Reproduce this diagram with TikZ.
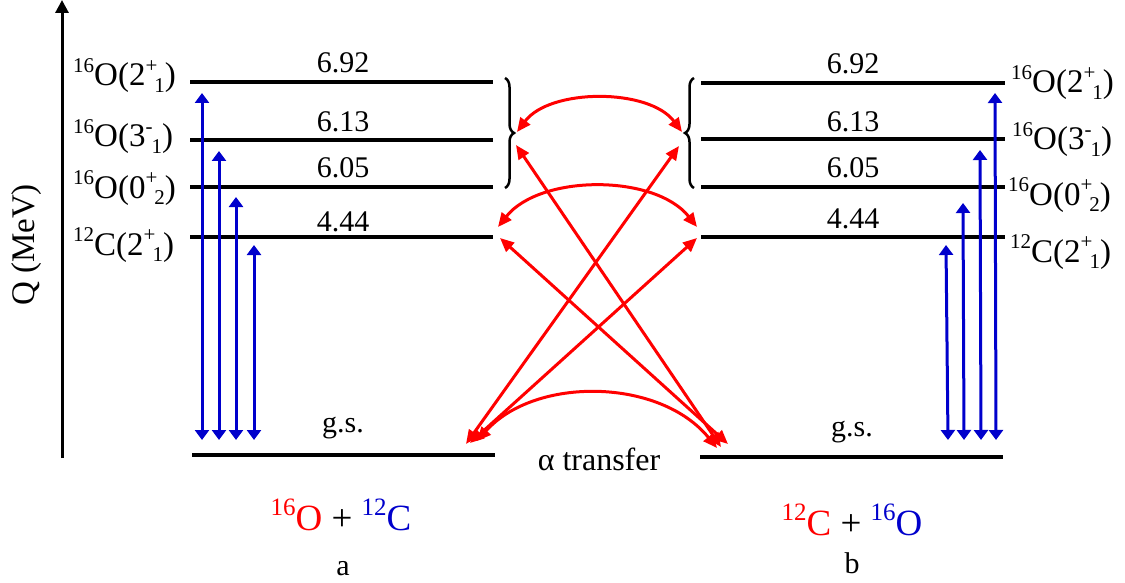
\documentclass[tikz,border=0pt]{standalone}
\usepackage{fontspec}
\setmainfont{Liberation Serif}
\usetikzlibrary{arrows.meta,decorations.pathreplacing}
\definecolor{myblue}{RGB}{0,0,204}
\newcommand{\isup}[1]{\raisebox{0.40em}{\fontsize{21}{21}\selectfont #1}}
\newcommand{\isdn}[1]{\raisebox{-0.20em}{\fontsize{21}{21}\selectfont #1}}
\newcommand{\bsup}[1]{\raisebox{0.40em}{\fontsize{25}{25}\selectfont #1}}
\begin{document}
\begin{tikzpicture}[x=1pt,y=-1pt,
  level/.style={line width=3.3pt},
  blu/.style={draw=myblue,line width=3pt,arrows={Triangle[length=10pt,width=14pt]-Triangle[length=10pt,width=14pt]}},
  redarr/.style={draw=red,line width=3pt,arrows={Triangle[length=14pt,width=12pt]-Triangle[length=14pt,width=12pt]}},
  num/.style={anchor=base,inner sep=0pt,font=\fontsize{30}{30}\selectfont},
  lab/.style={inner sep=0pt,font=\fontsize{33}{33}\selectfont},
  big/.style={anchor=base,inner sep=0pt,font=\fontsize{37}{37}\selectfont},
  brc/.style={decorate,decoration={brace,amplitude=9pt},line width=2.5pt}]
\useasboundingbox (0,0) rectangle (1125,583);
% axis
\coordinate (ax0) at (62,458);
\coordinate (ax1) at (62,0);
\draw[line width=3pt,-{Triangle[length=13pt,width=13pt]}] (ax0) -- (ax1);
\node[lab,rotate=90] (qlab) at (27,245) {Q (MeV)};
% left levels
\coordinate (La1) at (190,82);  \coordinate (Lb1) at (493,82);
\coordinate (La2) at (190,140); \coordinate (Lb2) at (493,140);
\coordinate (La3) at (190,187); \coordinate (Lb3) at (493,187);
\coordinate (La4) at (190,237); \coordinate (Lb4) at (493,237);
\coordinate (La0) at (192,455); \coordinate (Lb0) at (495,455);
\foreach \i in {0,...,4} \draw[level] (La\i) -- (Lb\i);
% right levels
\coordinate (Ra1) at (701,83);  \coordinate (Rb1) at (1005,83);
\coordinate (Ra2) at (701,139); \coordinate (Rb2) at (1005,139);
\coordinate (Ra3) at (701,187); \coordinate (Rb3) at (1005,187);
\coordinate (Ra4) at (701,237); \coordinate (Rb4) at (1005,237);
\coordinate (Ra0) at (700,457); \coordinate (Rb0) at (1003,457);
\foreach \i in {0,...,4} \draw[level] (Ra\i) -- (Rb\i);
% level numbers
\node[num] (ln1) at (343,73) {6.92};
\node[num] (ln2) at (343,132) {6.13};
\node[num] (ln3) at (343,178) {6.05};
\node[num] (ln4) at (343,231) {4.44};
\node[num] (ln0) at (343,432) {g.s.};
\node[num] (rn1) at (853,74) {6.92};
\node[num] (rn2) at (853,132) {6.13};
\node[num] (rn3) at (853,178) {6.05};
\node[num] (rn4) at (853,229) {4.44};
\node[num] (rn0) at (852,436) {g.s.};
% state labels left
\node[lab,anchor=base west] (sl1) at (73,86) {\isup{16}O(2\isup{+}\kern-3pt\isdn{1})};
\node[lab,anchor=base west] (sl2) at (73,147) {\isup{16}O(3\isup{-}\kern-1pt\isdn{1})};
\node[lab,anchor=base west] (sl3) at (73,198) {\isup{16}O(0\isup{+}\kern-3pt\isdn{2})};
\node[lab,anchor=base west] (sl4) at (73,255) {\isup{12}C(2\isup{+}\kern-3pt\isdn{1})};
% state labels right
\node[lab,anchor=base west] (sr1) at (1011,93) {\isup{16}O(2\isup{+}\kern-3pt\isdn{1})};
\node[lab,anchor=base west] (sr2) at (1012,150) {\isup{16}O(3\isup{-}\kern-1pt\isdn{1})};
\node[lab,anchor=base west] (sr3) at (1008,205) {\isup{16}O(0\isup{+}\kern-3pt\isdn{2})};
\node[lab,anchor=base west] (sr4) at (1010,262) {\isup{12}C(2\isup{+}\kern-3pt\isdn{1})};
% blue arrows left
\coordinate (bl1t) at (202,93);  \coordinate (bl1b) at (202,440);
\coordinate (bl2t) at (219,151); \coordinate (bl2b) at (219,440);
\coordinate (bl3t) at (236,197); \coordinate (bl3b) at (236,440);
\coordinate (bl4t) at (254,245); \coordinate (bl4b) at (254,440);
\foreach \i in {1,...,4} \draw[blu] (bl\i b) -- (bl\i t);
% blue arrows right
\coordinate (br1t) at (995,93);  \coordinate (br1b) at (996,440);
\coordinate (br2t) at (980,150); \coordinate (br2b) at (981,440);
\coordinate (br3t) at (963,203); \coordinate (br3b) at (964,440);
\coordinate (br4t) at (946,245); \coordinate (br4b) at (948,440);
\foreach \i in {1,...,4} \draw[blu] (br\i b) -- (br\i t);
% braces
\coordinate (lbA) at (505,78); \coordinate (lbB) at (505,188);
\coordinate (rbA) at (694,188); \coordinate (rbB) at (694,78);
\draw[brc] (lbA) -- (lbB);
\draw[brc] (rbA) -- (rbB);
% red arrows
\coordinate (p1) at (517,132); \coordinate (q1) at (682,132);
\coordinate (p2) at (498,227); \coordinate (q2) at (697,227);
\coordinate (p3) at (477,441); \coordinate (q3) at (717,448);
\coordinate (p5) at (516,145); \coordinate (q5) at (721,447);
\coordinate (p6) at (679,146); \coordinate (q6) at (466,444);
\coordinate (p7) at (500,238); \coordinate (q7) at (728,444);
\coordinate (p8) at (697,238); \coordinate (q8) at (470,443);
\draw[redarr] (p1) .. controls (550,88) and (649,88) .. (q1);
\draw[redarr] (p2) .. controls (540,174) and (655,174) .. (q2);
\draw[redarr] (p3) .. controls (535,376) and (660,378) .. (q3);
\draw[redarr] (p5) -- (q5);
\draw[redarr] (p6) -- (q6);
\draw[redarr] (p7) -- (q7);
\draw[redarr] (p8) -- (q8);
\node[num,font=\fontsize{32}{32}\selectfont] (alpha) at (599,470) {α transfer};
% bottom labels
\node[big] (sysa) at (341,530) {{\color{red}\bsup{16}O} + {\color{myblue}\bsup{12}C}};
\node[num] (la) at (343,575) {a};
\node[big] (sysb) at (852,535) {{\color{red}\bsup{12}C} + {\color{myblue}\bsup{16}O}};
\node[num] (lb) at (852,573) {b};
\end{tikzpicture}
\end{document}
